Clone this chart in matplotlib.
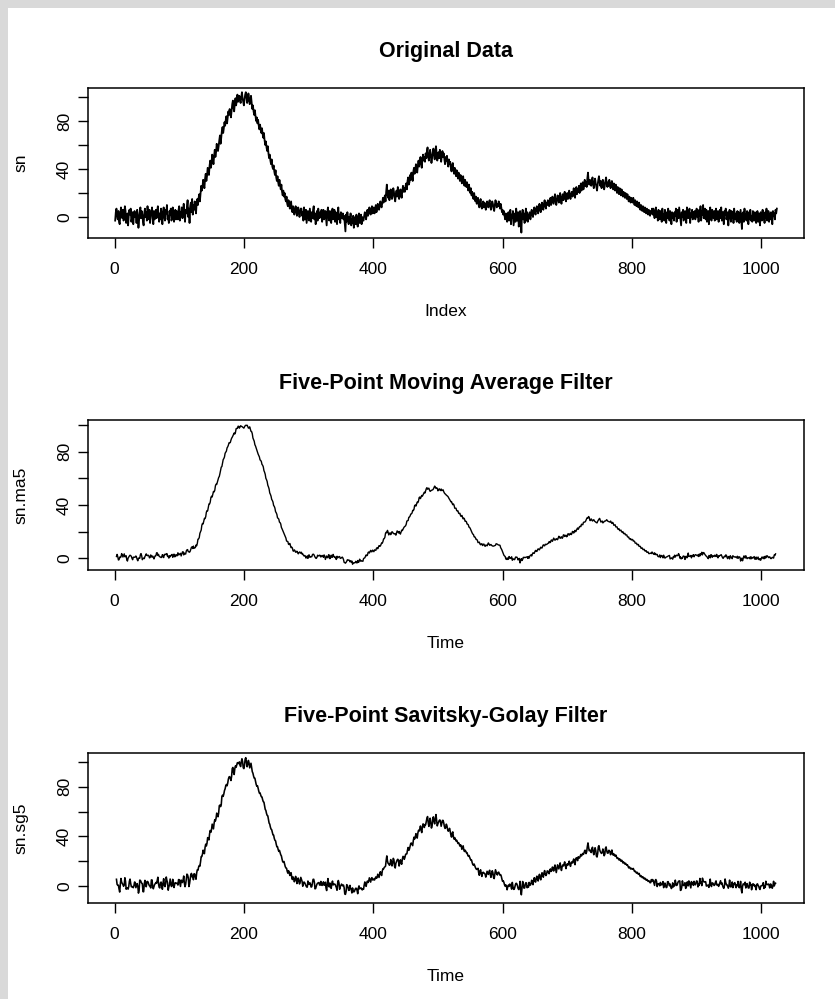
import matplotlib
matplotlib.use("Agg")
import matplotlib.pyplot as plt
from matplotlib.patches import Rectangle
import numpy as np

# Rohdaten (sn), Index 1..1024
sn = [
    -3, 4, 7, 1, -2, 5, -4, -6, 2, 8, 3, -1, 6, -3, 0, 9, 5, -5, -2, 3, -7, 1, 6, 2, 7, -4, -1, 4, -6, 2, 5, 0,
    3, -5, 6, 1, -9, -2, 4, 8, -1, 5, 2, -4, -7, 3, 7, 0, 4, -3, 9, 2, -2, 6, -5, 1, 3, 8, -1, -6, 5, -2, 2, 6,
    -1, 5, 9, 2, -4, 3, -2, 7, 1, -6, 4, 8, 0, -3, 6, 3, 10, -2, 1, -5, 5, 2, 7, -3, -1, 8, 4, -4, 2, 6, -2, 5,
    3, -2, 6, 9, -3, 4, 1, 8, -1, 5, 11, 2, -4, 6, 3, 9, 14, 0, 7, -5, 9, 12, 4, 15, 2, 10, 6, 13, 7, 3, 12, 15,
    10, 16, 19, 13, 20, 26, 22, 25, 31, 27, 24, 32, 36, 30, 34, 41, 38, 35, 43, 47, 41, 45, 52, 48, 44, 51, 56, 50, 54, 61, 57, 55,
    59, 64, 68, 61, 66, 72, 75, 70, 74, 79, 76, 81, 84, 78, 83, 88, 85, 90, 87, 83, 89, 94, 97, 91, 88, 95, 99, 93, 97, 102, 96, 99,
    101, 97, 95, 100, 104, 99, 96, 93, 98, 102, 104, 100, 95, 97, 103, 99, 94, 96, 101, 95, 90, 93, 88, 85, 89, 84, 80, 83, 78, 81, 76, 73,
    77, 73, 70, 74, 69, 66, 70, 64, 60, 63, 58, 55, 59, 53, 49, 52, 47, 44, 48, 42, 40, 43, 38, 35, 39, 33, 30, 34, 29, 26, 31, 27,
    23, 27, 21, 18, 22, 17, 20, 15, 13, 17, 11, 9, 14, 12, 7, 10, 13, 6, 4, 9, 7, 2, 5, 9, 6, 1, 3, 8, 5, 0, 4, 7,
    7, 1, 4, -3, 8, 2, -2, 6, -5, 0, 5, 3, -3, 7, 1, -4, 4, -1, 6, 9, -2, 3, -6, 1, 5, -3, 7, 2, -1, 4, 0, 6,
    -4, 3, 6, -2, 1, 5, -1, -7, 4, 8, 0, -3, 5, 2, -5, 3, 7, -2, 1, 6, -4, 4, -1, -6, 3, 8, -2, 2, -5, 4, 1, -1,
    3, -2, 1, -5, -12, 2, -4, 4, -1, -6, 0, -3, 3, -7, -2, -5, 1, -9, -3, 0, -6, 2, -4, -8, -1, 3, -5, -2, 2, -6, 0, -3,
    -3, 1, 4, 2, -2, 3, 6, 1, 4, 8, 5, 2, 6, 9, 3, 5, 8, 3, 6, 10, 4, 7, 11, 8, 6, 10, 13, 9, 8, 12, 16, 12,
    15, 18, 13, 21, 27, 19, 16, 22, 14, 17, 23, 20, 15, 18, 24, 21, 16, 13, 19, 22, 17, 25, 20, 15, 18, 23, 19, 16, 22, 26, 21, 24,
    21, 26, 28, 23, 30, 33, 27, 29, 35, 31, 37, 34, 30, 38, 41, 36, 39, 44, 40, 37, 43, 47, 42, 46, 50, 45, 41, 48, 52, 47, 50, 46,
    53, 49, 55, 58, 50, 47, 52, 56, 51, 45, 49, 54, 57, 52, 48, 55, 59, 53, 47, 50, 54, 49, 56, 52, 46, 51, 55, 50, 53, 48, 44, 50,
    47, 51, 45, 42, 48, 44, 46, 41, 38, 43, 45, 39, 36, 41, 38, 34, 39, 36, 32, 37, 34, 30, 35, 33, 28, 31, 34, 29, 26, 31, 28, 25,
    29, 25, 22, 27, 23, 20, 24, 18, 21, 17, 15, 20, 16, 13, 17, 11, 14, 16, 10, 8, 12, 15, 9, 7, 11, 13, 8, 12, 10, 6, 9, 13,
    11, 8, 12, 14, 9, 6, 10, 13, 11, 7, 5, 10, 14, 12, 8, 11, 9, 13, 10, 7, 11, 8, 4, 6, 2, 5, 1, -2, 3, 0, -4, -1,
    4, -3, 1, 6, -6, 2, -1, 5, -7, -2, 3, -4, 7, 1, -3, 4, -8, 0, 5, -1, -13, 2, 6, -2, 3, -5, 1, 7, -3, 4, -4, 2,
    1, 4, -2, 3, 6, 2, 0, 5, 8, 4, 2, 7, 9, 5, 3, 8, 11, 6, 4, 9, 12, 8, 6, 11, 14, 9, 7, 12, 10, 14, 11, 9,
    13, 16, 10, 12, 17, 14, 11, 15, 19, 13, 10, 14, 18, 16, 12, 17, 20, 15, 11, 16, 19, 14, 18, 21, 16, 13, 17, 20, 15, 18, 22, 17,
    15, 19, 21, 17, 20, 24, 18, 16, 22, 25, 19, 23, 21, 26, 20, 24, 28, 22, 25, 29, 23, 27, 31, 26, 29, 25, 32, 37, 30, 27, 31, 28,
    26, 30, 33, 27, 24, 29, 32, 28, 25, 22, 27, 31, 34, 29, 26, 30, 24, 27, 31, 28, 23, 26, 30, 33, 28, 25, 29, 26, 31, 27, 24, 28,
    30, 26, 23, 28, 25, 22, 27, 24, 20, 25, 22, 19, 24, 21, 18, 23, 20, 17, 21, 19, 16, 20, 18, 15, 19, 16, 13, 17, 15, 12, 16, 14,
    12, 16, 13, 10, 14, 11, 9, 13, 10, 8, 12, 9, 6, 10, 8, 5, 9, 7, 4, 8, 6, 3, 7, 5, 2, 6, 4, 1, 5, 3, 7, 2,
    7, 2, -1, 5, 8, 0, 4, -3, 6, 1, -2, 5, 3, -4, 7, 0, 2, -3, 6, 1, -5, 4, -1, 7, 2, -3, 5, 0, -6, 4, -1, 3,
    -3, 4, 1, 7, -4, 2, 6, -1, 8, 3, -2, -7, 4, 0, 6, -3, 1, 5, -2, -5, 8, 2, -1, 4, 7, -5, 3, 0, 6, -2, 4, 1,
    5, -2, 3, 7, 0, 4, -4, 6, 1, 9, -3, 5, 2, 10, -1, 4, 7, -2, 6, -4, 1, 5, -6, 3, 8, 0, -3, 6, 2, -1, 5, -3,
    4, 7, -2, 1, 5, -4, 2, 6, -1, 8, -3, 4, 0, -6, 5, 2, 7, -2, 1, 4, -7, 3, 6, 0, -4, 5, -1, 4, -5, 7, 2, -2,
    3, -4, 5, 0, 4, -5, 1, 6, -2, -10, 3, 4, -4, 7, -1, 2, -3, 5, 1, -6, 4, -2, 6, -3, 1, -4, 5, 2, -3, 4, -1, -5,
    2, 5, -4, 3, -1, -7, 4, 0, -3, 6, -2, 3, -5, 4, -1, 7, -3, 2, 5, -4, 3, -2, 4, 0, -6, 5, 1, 3, -2, 6, 3, 7,
]

titles = ["Original Data", "Five-Point Moving Average Filter", "Five-Point Savitsky-Golay Filter"]
ylabels = ["sn", "sn.ma5", "sn.sg5"]
xlabels = ["Index", "Time", "Time"]
xticks = [0, 200, 400, 600, 800, 1000]
yticks = [0, 20, 40, 60, 80, 100]
ytick_labels = ["0", "", "40", "", "80", ""]

# Filter (wie filter(..., sides=2) in R)
ma5_coef = [1, 1, 1, 1, 1]
sg5_coef = [-3, 12, 17, 12, -3]

W, H = 835, 999
plt.rcParams['font.family'] = ['Liberation Sans', 'DejaVu Sans']

sn = np.array(sn, dtype=float)
idx = np.arange(1, len(sn) + 1)
ma5 = np.convolve(sn, np.array(ma5_coef) / sum(ma5_coef), mode='valid')
sg5 = np.convolve(sn, np.array(sg5_coef) / sum(sg5_coef), mode='valid')
idx_f = idx[2:-2]

series = [(idx, sn), (idx_f, ma5), (idx_f, sg5)]
line_w = [1.3, 1.0, 1.15]
ylims = [(-17.5, 107.5), (-8.7, 103.7), (-13.5, 107.0)]
box_tops = [88, 420, 753]   # Pixel
box_h = 150

fig = plt.figure(figsize=(W / 100, H / 100), dpi=100)
fig.patch.set_facecolor('#d9d9d9')
fig.add_artist(Rectangle((8 / W, 0), 1, 1 - 8 / H, transform=fig.transFigure,
                         facecolor='white', edgecolor='none', zorder=-1))

for k in range(3):
    top = box_tops[k]
    ax = fig.add_axes([88 / W, 1 - (top + box_h) / H, 716 / W, box_h / H])
    x, y = series[k]
    ax.plot(x, y, color='black', linewidth=line_w[k])

    ax.set_xlim(-41, 1066)
    ax.set_ylim(*ylims[k])
    ax.set_xticks(xticks)
    ax.set_yticks(yticks)
    ax.set_yticklabels(ytick_labels, rotation=90, va='center')
    ax.tick_params(axis='x', length=7, width=1, labelsize=12.5, pad=10.5)
    ax.tick_params(axis='y', length=7, width=1, labelsize=12.5, pad=4.5)
    for sp in ax.spines.values():
        sp.set_linewidth(1.1)

    # Titel und Achsenbeschriftungen
    fig.text(446 / W, 1 - (top - 31) / H, titles[k], ha='center', va='baseline',
             fontsize=15.5, fontweight='bold')
    fig.text(446 / W, 1 - (top + box_h + 78) / H, xlabels[k], ha='center',
             va='baseline', fontsize=12.5)
    fig.text(28 / W, 1 - (top + box_h / 2) / H, ylabels[k], ha='right',
             va='center', rotation=90, fontsize=12.5)

fig.savefig('out.png', dpi=100, facecolor=fig.get_facecolor())
